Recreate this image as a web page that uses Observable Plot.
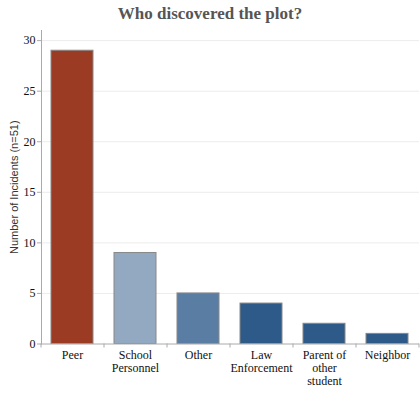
<!DOCTYPE html>
<html><head><meta charset="utf-8">
<script src="https://cdn.jsdelivr.net/npm/d3@7"></script>
<script src="https://cdn.jsdelivr.net/npm/@observablehq/plot@0.6"></script>
<style>
body{margin:0;background:#fff;}
#title{height:28px;line-height:28px;text-align:center;font-family:"Liberation Serif",serif;font-weight:bold;font-size:17px;color:#555;}
</style></head><body>
<div id="title"></div>
<div id="chart"></div>
<script>
const title = "Who discovered the plot?";
const yLabel = "Number of Incidents (n=51)";
const categories = ["Peer","School Personnel","Other","Law Enforcement","Parent of other student","Neighbor"];
const tickLabels = ["Peer","School\nPersonnel","Other","Law\nEnforcement","Parent of\nother\nstudent","Neighbor"];
const values = [29,9,5,4,2,1];
const colors = ["#9c3b23","#93a9c1","#5a7ea3","#2d5a88","#2d5a88","#2d5a88"];
const yTicks = [0,5,10,15,20,25,30];
const yMax = 31;

document.getElementById("title").textContent = title;
const data = categories.map((c,i)=>({category:c, value:values[i], color:colors[i]}));
const labelOf = new Map(categories.map((c,i)=>[c,tickLabels[i]]));
const W = 420, ML = 41, MR = 1;
const step = (W-ML-MR)/categories.length;

const chart = Plot.plot({
  width:W, height:365, marginLeft:ML, marginRight:MR, marginTop:2, marginBottom:49.5,
  style:{fontFamily:"'Liberation Serif', serif", fontSize:"12px", color:"#111", background:"#fff"},
  x:{domain:categories, paddingInner:0.33, paddingOuter:0.165, axis:null},
  y:{domain:[0,yMax], axis:null},
  color:{type:"identity"},
  marks:[
    Plot.gridY(yTicks.filter(d=>d>0), {stroke:"#ececec", strokeOpacity:1}),
    Plot.barY(data,{x:"category", y:"value", fill:"color", stroke:"#888", strokeWidth:1}),
    Plot.frame({anchor:"left", stroke:"#aaa"}),
    Plot.ruleY([0],{stroke:"#aaa"}),
    Plot.axisY({ticks:yTicks, tickSize:4, tickPadding:2, stroke:"#aaa", label:null, fill:"#111"}),
    Plot.axisX({tickSize:0, tickPadding:6, tickFormat:d=>labelOf.get(d), label:null, lineHeight:1.08, fill:"#111"}),
    Plot.ruleX(categories,{x:d=>d, dx:-step/2, y1:0, y2:0, insetBottom:-4, stroke:"#aaa"}),
    Plot.ruleX(categories.slice(-1),{x:d=>d, dx:step/2, y1:0, y2:0, insetBottom:-4, stroke:"#aaa"}),
    Plot.text([yLabel],{frameAnchor:"left", textAnchor:"middle", text:d=>d, rotate:-90, dx:-27, fontFamily:"'Liberation Sans', sans-serif", fontSize:11, fill:"#333"})
  ]
});
document.getElementById("chart").appendChild(chart);
</script>
</body></html>
